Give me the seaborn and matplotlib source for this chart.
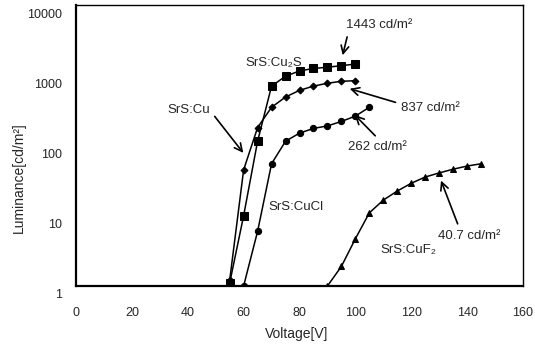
import matplotlib
matplotlib.use("Agg")
import matplotlib.pyplot as plt
import matplotlib.transforms as mtransforms
import seaborn as sns
import pandas as pd

# ---- data ----
v_cu2s = [55, 60, 65, 70, 75, 80, 85, 90, 95, 100]
l_cu2s = [1.1, 10, 115, 700, 970, 1150, 1250, 1300, 1370, 1443]

v_cu = [55, 60, 65, 70, 75, 80, 85, 90, 95, 100]
l_cu = [1.2, 45, 180, 350, 490, 610, 700, 770, 820, 837]

v_cucl = [60, 65, 70, 75, 80, 85, 90, 95, 100, 105]
l_cucl = [1.0, 6, 55, 115, 150, 175, 190, 220, 262, 350]

v_cuf2 = [90, 95, 100, 105, 110, 115, 120, 125, 130, 135, 140, 145]
l_cuf2 = [1.0, 1.9, 4.7, 11, 16.7, 22.5, 29, 35.6, 40.7, 46, 51, 55]

x_ticks = [0, 20, 40, 60, 80, 100, 120, 140, 160]
y_ticks = [1, 10, 100, 1000, 10000]
y_tick_labels = ["1", "10", "100", "1000", "10000"]

sns.set_style("white")
plt.rcParams['font.family'] = ['Liberation Sans', 'DejaVu Sans']

fig = plt.figure(figsize=(5.35, 3.48), dpi=100)
ax = fig.add_axes([76/535, 1-286/348, (523-76)/535, (286-5)/348])

series = [
    (v_cu2s, l_cu2s, "s", 5.5),
    (v_cu, l_cu, "D", 3.5),
    (v_cucl, l_cucl, "o", 4.5),
    (v_cuf2, l_cuf2, "^", 4.5),
]
for vx, ly, mk, ms in series:
    df = pd.DataFrame({"V": vx, "L": ly})
    sns.lineplot(data=df, x="V", y="L", ax=ax, color="black", linewidth=1.1,
                 marker=mk, markersize=ms, markeredgecolor="black",
                 markerfacecolor="black", sort=False)

ax.set_yscale("log")
ax.set_xlim(0, 160)
ax.set_ylim(1, 10000)
ax.set_xticks(x_ticks)
ax.set_xticklabels([str(t) for t in x_ticks])
ax.set_yticks(y_ticks)
ax.set_yticklabels(y_tick_labels)
ax.minorticks_off()
ax.tick_params(axis="x", length=0, pad=15, labelsize=9)
ax.tick_params(axis="y", length=0, pad=10, labelsize=9)
offset = mtransforms.ScaledTranslation(0, -8/100, fig.dpi_scale_trans)
for lab in ax.get_yticklabels():
    lab.set_transform(lab.get_transform() + offset)

for s in ax.spines.values():
    s.set_color("black")
    s.set_linewidth(1.0)
ax.spines["bottom"].set_linewidth(1.6)
ax.spines["left"].set_linewidth(1.6)

ax.set_xlabel("Voltage[V]", fontsize=10)
ax.set_ylabel("Luminance[cd/m²]", fontsize=10)
ax.xaxis.set_label_coords(0.494, -(327-286)/281, transform=ax.transAxes)
ax.yaxis.set_label_coords(-(76-26)/447, 0.384, transform=ax.transAxes)

fs = 9.5
ap = dict(arrowstyle="->", color="black", lw=1.2, mutation_scale=14)
ax.annotate("1443 cd/m²", xy=(95.2, 1760), xytext=(96.5, 5200),
            fontsize=fs, va="center", ha="left",
            arrowprops=dict(ap, relpos=(0.05, 0.1)))
ax.annotate("837 cd/m²", xy=(97, 660), xytext=(116.5, 345),
            fontsize=fs, va="center", ha="left",
            arrowprops=dict(ap, relpos=(0, 0.8)))
ax.annotate("262 cd/m²", xy=(99.1, 290), xytext=(97.4, 95),
            fontsize=fs, va="center", ha="left",
            arrowprops=dict(ap, relpos=(0.55, 1)))
ax.annotate("40.7 cd/m²", xy=(130.3, 34.5), xytext=(129.6, 5.2),
            fontsize=fs, va="center", ha="left",
            arrowprops=dict(ap, relpos=(0.35, 1)))
ax.annotate("SrS:Cu", xy=(60.5, 73), xytext=(32.6, 320),
            fontsize=fs, va="center", ha="left",
            arrowprops=dict(ap, relpos=(1, 0.5)))
ax.text(60.5, 1490, "SrS:Cu₂S", fontsize=fs, va="center", ha="left")
ax.text(68.7, 13.3, "SrS:CuCl", fontsize=fs, va="center", ha="left")
ax.text(108.8, 3.25, "SrS:CuF₂", fontsize=fs, va="center", ha="left")

fig.savefig("out.png", dpi=100)
